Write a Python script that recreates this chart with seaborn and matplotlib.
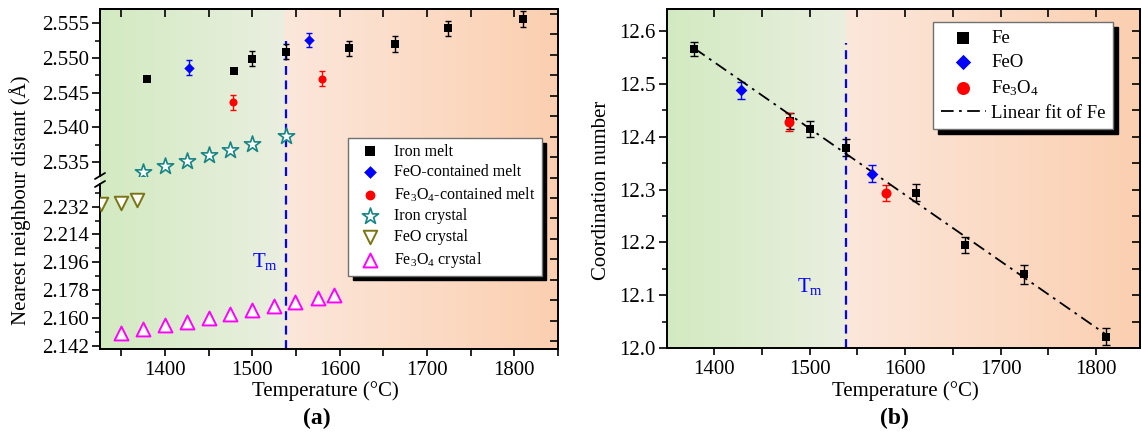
import numpy as np
import matplotlib
matplotlib.use("Agg")
import matplotlib.pyplot as plt
import seaborn as sns
from matplotlib.lines import Line2D
from matplotlib.ticker import MultipleLocator, FormatStrFormatter

# ---- (a) nearest neighbour distance ----
melt_T = [1379, 1479, 1500, 1538, 1611, 1663, 1724, 1810]
melt_r = [2.5470, 2.5481, 2.5499, 2.5509, 2.5514, 2.5520, 2.5543, 2.5556]
melt_err = [0.0, 0.0, 0.0011, 0.0011, 0.0011, 0.0011, 0.0011, 0.0012]

feo_melt_T = [1428, 1565]
feo_melt_r = [2.5486, 2.5526]
feo_melt_err = [0.0011, 0.0010]

fe3o4_melt_T = [1478, 1580]
fe3o4_melt_r = [2.5436, 2.5470]
fe3o4_melt_err = [0.0011, 0.0011]

iron_cryst_T = [1375, 1400, 1425, 1450, 1475, 1500, 1538]
iron_cryst_r = [2.5336, 2.5345, 2.5352, 2.5360, 2.5368, 2.5376, 2.5388]

feo_cryst_T = [1327, 1350, 1368]
feo_cryst_r = [2.2337, 2.2345, 2.2361]

fe3o4_cryst_T = [1350, 1375, 1400, 1425, 1450, 1475, 1500, 1525, 1549, 1575, 1594]
fe3o4_cryst_r = [2.1501, 2.1526, 2.1551, 2.1574, 2.1600, 2.1626, 2.1652,
                 2.1677, 2.1704, 2.1729, 2.1747]

# ---- (b) coordination number ----
fe_T = [1379, 1479, 1500, 1538, 1611, 1663, 1724, 1810]
fe_cn = [12.566, 12.430, 12.415, 12.379, 12.294, 12.195, 12.140, 12.021]
fe_err = [0.013, 0.015, 0.015, 0.016, 0.016, 0.016, 0.018, 0.016]

feo_T = [1428, 1565]
feo_cn = [12.488, 12.330]
feo_err = [0.016, 0.016]

fe3o4_T = [1478, 1580]
fe3o4_cn = [12.428, 12.294]
fe3o4_err = [0.017, 0.015]

TM = 1538

GREEN = [(210, 234, 193), (234, 239, 224)]
PEACH = [(251, 231, 219), (252, 207, 176)]

sns.set_theme(style="ticks")
plt.rcParams["font.family"] = ["Liberation Serif", "DejaVu Sans"]
plt.rcParams["mathtext.fontset"] = "custom"
plt.rcParams["mathtext.rm"] = "Liberation Serif"
plt.rcParams["mathtext.default"] = "regular"
plt.rcParams["axes.edgecolor"] = "black"
plt.rcParams["axes.linewidth"] = 1.4
plt.rcParams["xtick.color"] = "black"
plt.rcParams["ytick.color"] = "black"
plt.rcParams["xtick.labelsize"] = 15
plt.rcParams["ytick.labelsize"] = 15
plt.rcParams["text.color"] = "black"


def paint_background(ax, x0, x1, y0, y1):
    xs = np.linspace(x0, x1, 1200)
    rgb = np.zeros((1, xs.size, 3))
    left = xs < TM
    for i in range(3):
        rgb[0, left, i] = np.interp(xs[left], [x0, TM], [GREEN[0][i], GREEN[1][i]])
        rgb[0, ~left, i] = np.interp(xs[~left], [TM, x1], [PEACH[0][i], PEACH[1][i]])
    ax.imshow(rgb / 255, extent=[x0, x1, y0, y1], aspect="auto", origin="lower",
              interpolation="nearest", zorder=0)


def add_errors(ax, x, y, err, color, cap):
    x, y, err = np.asarray(x), np.asarray(y), np.asarray(err)
    keep = err > 0
    ax.errorbar(x[keep], y[keep], yerr=err[keep], fmt="none", ecolor=color,
                elinewidth=1, capsize=cap, capthick=1, zorder=2)


def drop_legend(ax):
    if ax.get_legend() is not None:
        ax.get_legend().remove()


fig = plt.figure(figsize=(11.42, 4.40), dpi=100)

# ================= panel (a) =================
xa = (1325.6, 1850)
ax_bg = fig.add_axes([0.08757, 0.20682, 0.40105, 0.77273])
ax_up = fig.add_axes([0.08757, 0.6, 0.40105, 0.37955], facecolor="none")
ax_lo = fig.add_axes([0.08757, 0.20682, 0.40105, 0.375], facecolor="none")

paint_background(ax_bg, xa[0], xa[1], 0, 1)
ax_bg.set_xlim(xa)
ax_bg.set_ylim(0, 1)
for s in ["left", "top", "bottom"]:
    ax_bg.spines[s].set_visible(False)
ax_bg.set_xticks([])
ax_bg.yaxis.tick_right()
ax_bg.set_yticks(np.arange(0.0235, 1.0, 0.0601))
ax_bg.tick_params(axis="y", direction="in", length=6, width=1.2,
                  labelright=False, left=False)

up_lim = (2.5330, 2.55706)
lo_lim = (2.13986, 2.2467)

add_errors(ax_up, melt_T, melt_r, melt_err, "black", 2.4)
add_errors(ax_up, feo_melt_T, feo_melt_r, feo_melt_err, "blue", 2.4)
add_errors(ax_up, fe3o4_melt_T, fe3o4_melt_r, fe3o4_melt_err, "red", 2.4)

frac = (2.5525 - up_lim[0]) / (up_lim[1] - up_lim[0])
ax_up.axvline(TM, ymax=frac, color="blue", lw=1.6, ls=(0, (4, 2.5)), zorder=1)
ax_lo.axvline(TM, color="blue", lw=1.6, ls=(0, (4, 2.5)), zorder=1)

sns.scatterplot(x=melt_T, y=melt_r, marker="s", color="black", s=30, linewidth=0,
                ax=ax_up, label="Iron melt", zorder=3)
sns.scatterplot(x=feo_melt_T, y=feo_melt_r, marker="D", color="blue", s=28, linewidth=0,
                ax=ax_up, label="FeO-contained melt", zorder=3)
sns.scatterplot(x=fe3o4_melt_T, y=fe3o4_melt_r, marker="o", color="red", s=34, linewidth=0,
                ax=ax_up, label="Fe$_3$O$_4$-contained melt", zorder=3)
sns.scatterplot(x=iron_cryst_T, y=iron_cryst_r, marker="*", color="white", s=150,
                edgecolor="#178585", linewidth=1.2, ax=ax_up, label="Iron crystal", zorder=3)
sns.scatterplot(x=feo_cryst_T, y=feo_cryst_r, marker="v", color="white", s=95,
                edgecolor="#7a7414", linewidth=1.4, ax=ax_lo, label="FeO crystal", zorder=3)
sns.scatterplot(x=fe3o4_cryst_T, y=fe3o4_cryst_r, marker="^", color="white", s=100,
                edgecolor="#ff00ff", linewidth=1.4, ax=ax_lo, label="Fe$_3$O$_4$ crystal", zorder=3)

ax_up.set_xlim(xa)
ax_lo.set_xlim(xa)
ax_up.set_ylim(up_lim)
ax_lo.set_ylim(lo_lim)

ax_up.spines["bottom"].set_visible(False)
ax_up.spines["right"].set_visible(False)
ax_lo.spines["top"].set_visible(False)
ax_lo.spines["right"].set_visible(False)

ax_up.yaxis.set_major_locator(MultipleLocator(0.005))
ax_up.yaxis.set_minor_locator(MultipleLocator(0.0025))
ax_up.yaxis.set_major_formatter(FormatStrFormatter("%.3f"))
ax_lo.yaxis.set_major_locator(MultipleLocator(0.018))
ax_lo.yaxis.set_minor_locator(MultipleLocator(0.009))
ax_lo.yaxis.set_major_formatter(FormatStrFormatter("%.3f"))
for ax in (ax_up, ax_lo):
    ax.tick_params(axis="y", which="major", direction="out", length=6, width=1.2,
                   right=False, pad=2)
    ax.tick_params(axis="y", which="minor", direction="out", length=3.5, width=1.1, right=False)
    ax.set_xlabel("")
    ax.set_ylabel("")
ax_up.tick_params(axis="x", which="both", bottom=False, labelbottom=False, top=False)
ax_lo.xaxis.set_major_locator(MultipleLocator(100))
ax_lo.xaxis.set_minor_locator(MultipleLocator(50))
ax_lo.tick_params(axis="x", which="major", direction="out", length=5, width=1.2, top=False)
ax_lo.tick_params(axis="x", which="minor", direction="out", length=5, width=1.2, top=False)

sec_top = ax_up.secondary_xaxis("top")
sec_top.xaxis.set_major_locator(MultipleLocator(50))
sec_top.tick_params(direction="in", length=6, width=1.2, labeltop=False)

ax_lo.text(1514, 2.1966, "T$_\\mathrm{m}$", color="blue", fontsize=15,
           ha="center", va="center")

# break marks on the left spine
for py in (176, 184):
    fy = 1 - py / 440
    fig.add_artist(Line2D([95 / 1142, 105 / 1142], [fy - 3 / 440, fy + 3 / 440],
                          transform=fig.transFigure, color="black", lw=1.3))

handles, labels = [], []
for ax in (ax_up, ax_lo):
    h, l = ax.get_legend_handles_labels()
    handles += h
    labels += l
    drop_legend(ax)
leg_a = fig.legend(handles, labels, loc="upper left",
                   bbox_to_anchor=(348 / 1142, 1 - 138 / 440),
                   fontsize=11.5, frameon=True, fancybox=False, edgecolor="#707070",
                   framealpha=1, borderpad=0.35, labelspacing=0.3, handletextpad=0.55,
                   handlelength=2.0, borderaxespad=0,
                   shadow={"ox": 3.5, "oy": -3.5, "color": "black", "alpha": 1})
for hd, sz in zip(leg_a.legend_handles, [45, 42, 50, 150, 95, 100]):
    hd.set_sizes([sz])

fig.text(20 / 1142, 0.545, "Nearest neighbour distant (Å)", rotation=90,
         ha="center", va="center", fontsize=15)
fig.text(325 / 1142, 1 - 391 / 440, "Temperature (°C)", ha="center", va="center", fontsize=15)
fig.text(317 / 1142, 1 - 418 / 440, "(a)", ha="center", va="center", fontsize=17,
         fontweight="bold")

# ================= panel (b) =================
xb = (1350.4, 1846)
yb = (12.0, 12.642)
ax_b = fig.add_axes([0.58406, 0.20909, 0.41419, 0.77045])
paint_background(ax_b, xb[0], xb[1], yb[0], yb[1])

add_errors(ax_b, fe_T, fe_cn, fe_err, "black", 3)
add_errors(ax_b, feo_T, feo_cn, feo_err, "blue", 3)
add_errors(ax_b, fe3o4_T, fe3o4_cn, fe3o4_err, "red", 3)

ax_b.axvline(TM, ymax=(12.577 - yb[0]) / (yb[1] - yb[0]), color="blue", lw=1.6,
             ls=(0, (4, 2.5)), zorder=1)

slope, icpt = np.polyfit(fe_T, fe_cn, 1)
fit_x = np.array([min(fe_T), max(fe_T)])
fit_y = slope * fit_x + icpt

sns.scatterplot(x=fe_T, y=fe_cn, marker="s", color="black", s=40, linewidth=0,
                ax=ax_b, label="Fe", zorder=3)
sns.scatterplot(x=feo_T, y=feo_cn, marker="D", color="blue", s=36, linewidth=0,
                ax=ax_b, label="FeO", zorder=4)
sns.scatterplot(x=fe3o4_T, y=fe3o4_cn, marker="o", color="red", s=52, linewidth=0,
                ax=ax_b, label="Fe$_3$O$_4$", zorder=4)
sns.lineplot(x=fit_x, y=fit_y, color="black", lw=1.3, linestyle=(0, (7, 3, 1.5, 3)),
             ax=ax_b, label="Linear fit of Fe", zorder=2.5)

ax_b.set_xlim(xb)
ax_b.set_ylim(yb)
ax_b.set_xlabel("")
ax_b.set_ylabel("")
ax_b.xaxis.set_major_locator(MultipleLocator(100))
ax_b.xaxis.set_minor_locator(MultipleLocator(50))
ax_b.yaxis.set_major_locator(MultipleLocator(0.1))
ax_b.yaxis.set_minor_locator(MultipleLocator(0.05))
ax_b.yaxis.set_major_formatter(FormatStrFormatter("%.1f"))
ax_b.tick_params(axis="x", which="both", direction="out", length=5, width=1.2, top=False)
ax_b.tick_params(axis="y", which="major", direction="out", length=6, width=1.2, right=False, pad=2)
ax_b.tick_params(axis="y", which="minor", direction="out", length=3.5, width=1.1, right=False)

sec_tb = ax_b.secondary_xaxis("top")
sec_tb.xaxis.set_major_locator(MultipleLocator(50))
sec_tb.tick_params(direction="in", length=6, width=1.2, labeltop=False)
sec_rb = ax_b.secondary_yaxis("right")
sec_rb.yaxis.set_major_locator(MultipleLocator(0.05))
sec_rb.tick_params(direction="in", length=6, width=1.2, labelright=False)

ax_b.text(1500, 12.116, "T$_\\mathrm{m}$", color="blue", fontsize=15, ha="center", va="center")

h, l = ax_b.get_legend_handles_labels()
drop_legend(ax_b)
fig.legend(h, l, loc="upper left", bbox_to_anchor=(933 / 1142, 1 - 22 / 440),
           fontsize=13.5, frameon=True, fancybox=False, edgecolor="#707070",
           framealpha=1, borderpad=0.4, labelspacing=0.38, handletextpad=0.3,
           handlelength=2.4, borderaxespad=0, markerscale=1.3,
           shadow={"ox": 3.5, "oy": -3.5, "color": "black", "alpha": 1})

fig.text(602 / 1142, 0.568, "Coordination number", rotation=90,
         ha="center", va="center", fontsize=15)
fig.text(905 / 1142, 1 - 391 / 440, "Temperature (°C)", ha="center", va="center", fontsize=15)
fig.text(894 / 1142, 1 - 418 / 440, "(b)", ha="center", va="center", fontsize=17,
         fontweight="bold")

fig.savefig("out.png", dpi=100)
plt.close(fig)
